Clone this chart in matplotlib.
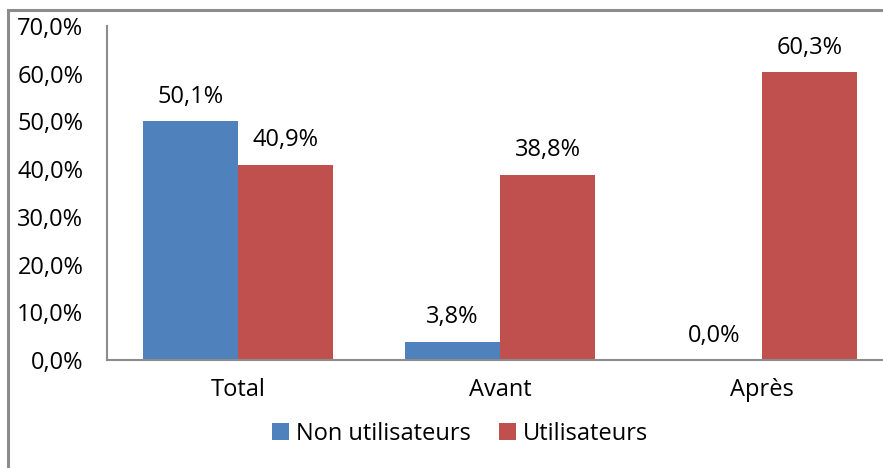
import numpy as np
import matplotlib.pyplot as plt
from matplotlib.patches import Rectangle

categories = ['Total', 'Avant', 'Après']
non_util = [50.1, 3.8, 0.0]
util = [40.9, 38.8, 60.3]
yticks = [0, 10, 20, 30, 40, 50, 60, 70]

blue = '#4F81BD'
red = '#C0504D'
grey = '#8C8C8C'

plt.rcParams['font.family'] = ['Open Sans', 'DejaVu Sans']
fs = 17

fig = plt.figure(figsize=(8.83, 4.68), dpi=100)
W, H = 883, 468
ax = fig.add_axes([107 / W, 108 / H, (W - 107) / W, 334 / H])

# border of the chart frame (cut off at right and bottom)
fig.patches.append(Rectangle((8 / W, -0.05), 1.0, (H - 10) / H + 0.05,
                             transform=fig.transFigure, fill=False,
                             edgecolor=grey, linewidth=2.2))

x = np.arange(len(categories))
w = 0.363
b1 = ax.bar(x - w / 2, non_util, w, color=blue, label='Non utilisateurs')
b2 = ax.bar(x + w / 2, util, w, color=red, label='Utilisateurs')

def fmt(v):
    return ('%.1f%%' % v).replace('.', ',')

for bars, vals in ((b1, non_util), (b2, util)):
    for r, v in zip(bars, vals):
        ax.text(r.get_x() + r.get_width() / 2, v + 2.6, fmt(v),
                ha='center', va='bottom', fontsize=fs)

ax.set_xlim(-0.5, -0.5 + (W - 107) / 262)
ax.set_ylim(0, 70)
ax.set_yticks(yticks)
ax.set_yticklabels([fmt(t) for t in yticks], fontsize=fs)
ax.set_xticks(x)
ax.set_xticklabels(categories, fontsize=fs)
ax.tick_params(axis='y', length=0, pad=17)
ax.tick_params(axis='x', length=0, pad=13)
for s in ('top', 'right'):
    ax.spines[s].set_visible(False)
for s in ('left', 'bottom'):
    ax.spines[s].set_color(grey)
    ax.spines[s].set_linewidth(1.5)

fig.legend(loc='center', bbox_to_anchor=(460 / W, 1 - 434 / H), ncol=2,
           frameon=False, fontsize=fs, handlelength=0.7, handleheight=0.7,
           handletextpad=0.3, columnspacing=1.2)

fig.savefig('out.png', dpi=100)
